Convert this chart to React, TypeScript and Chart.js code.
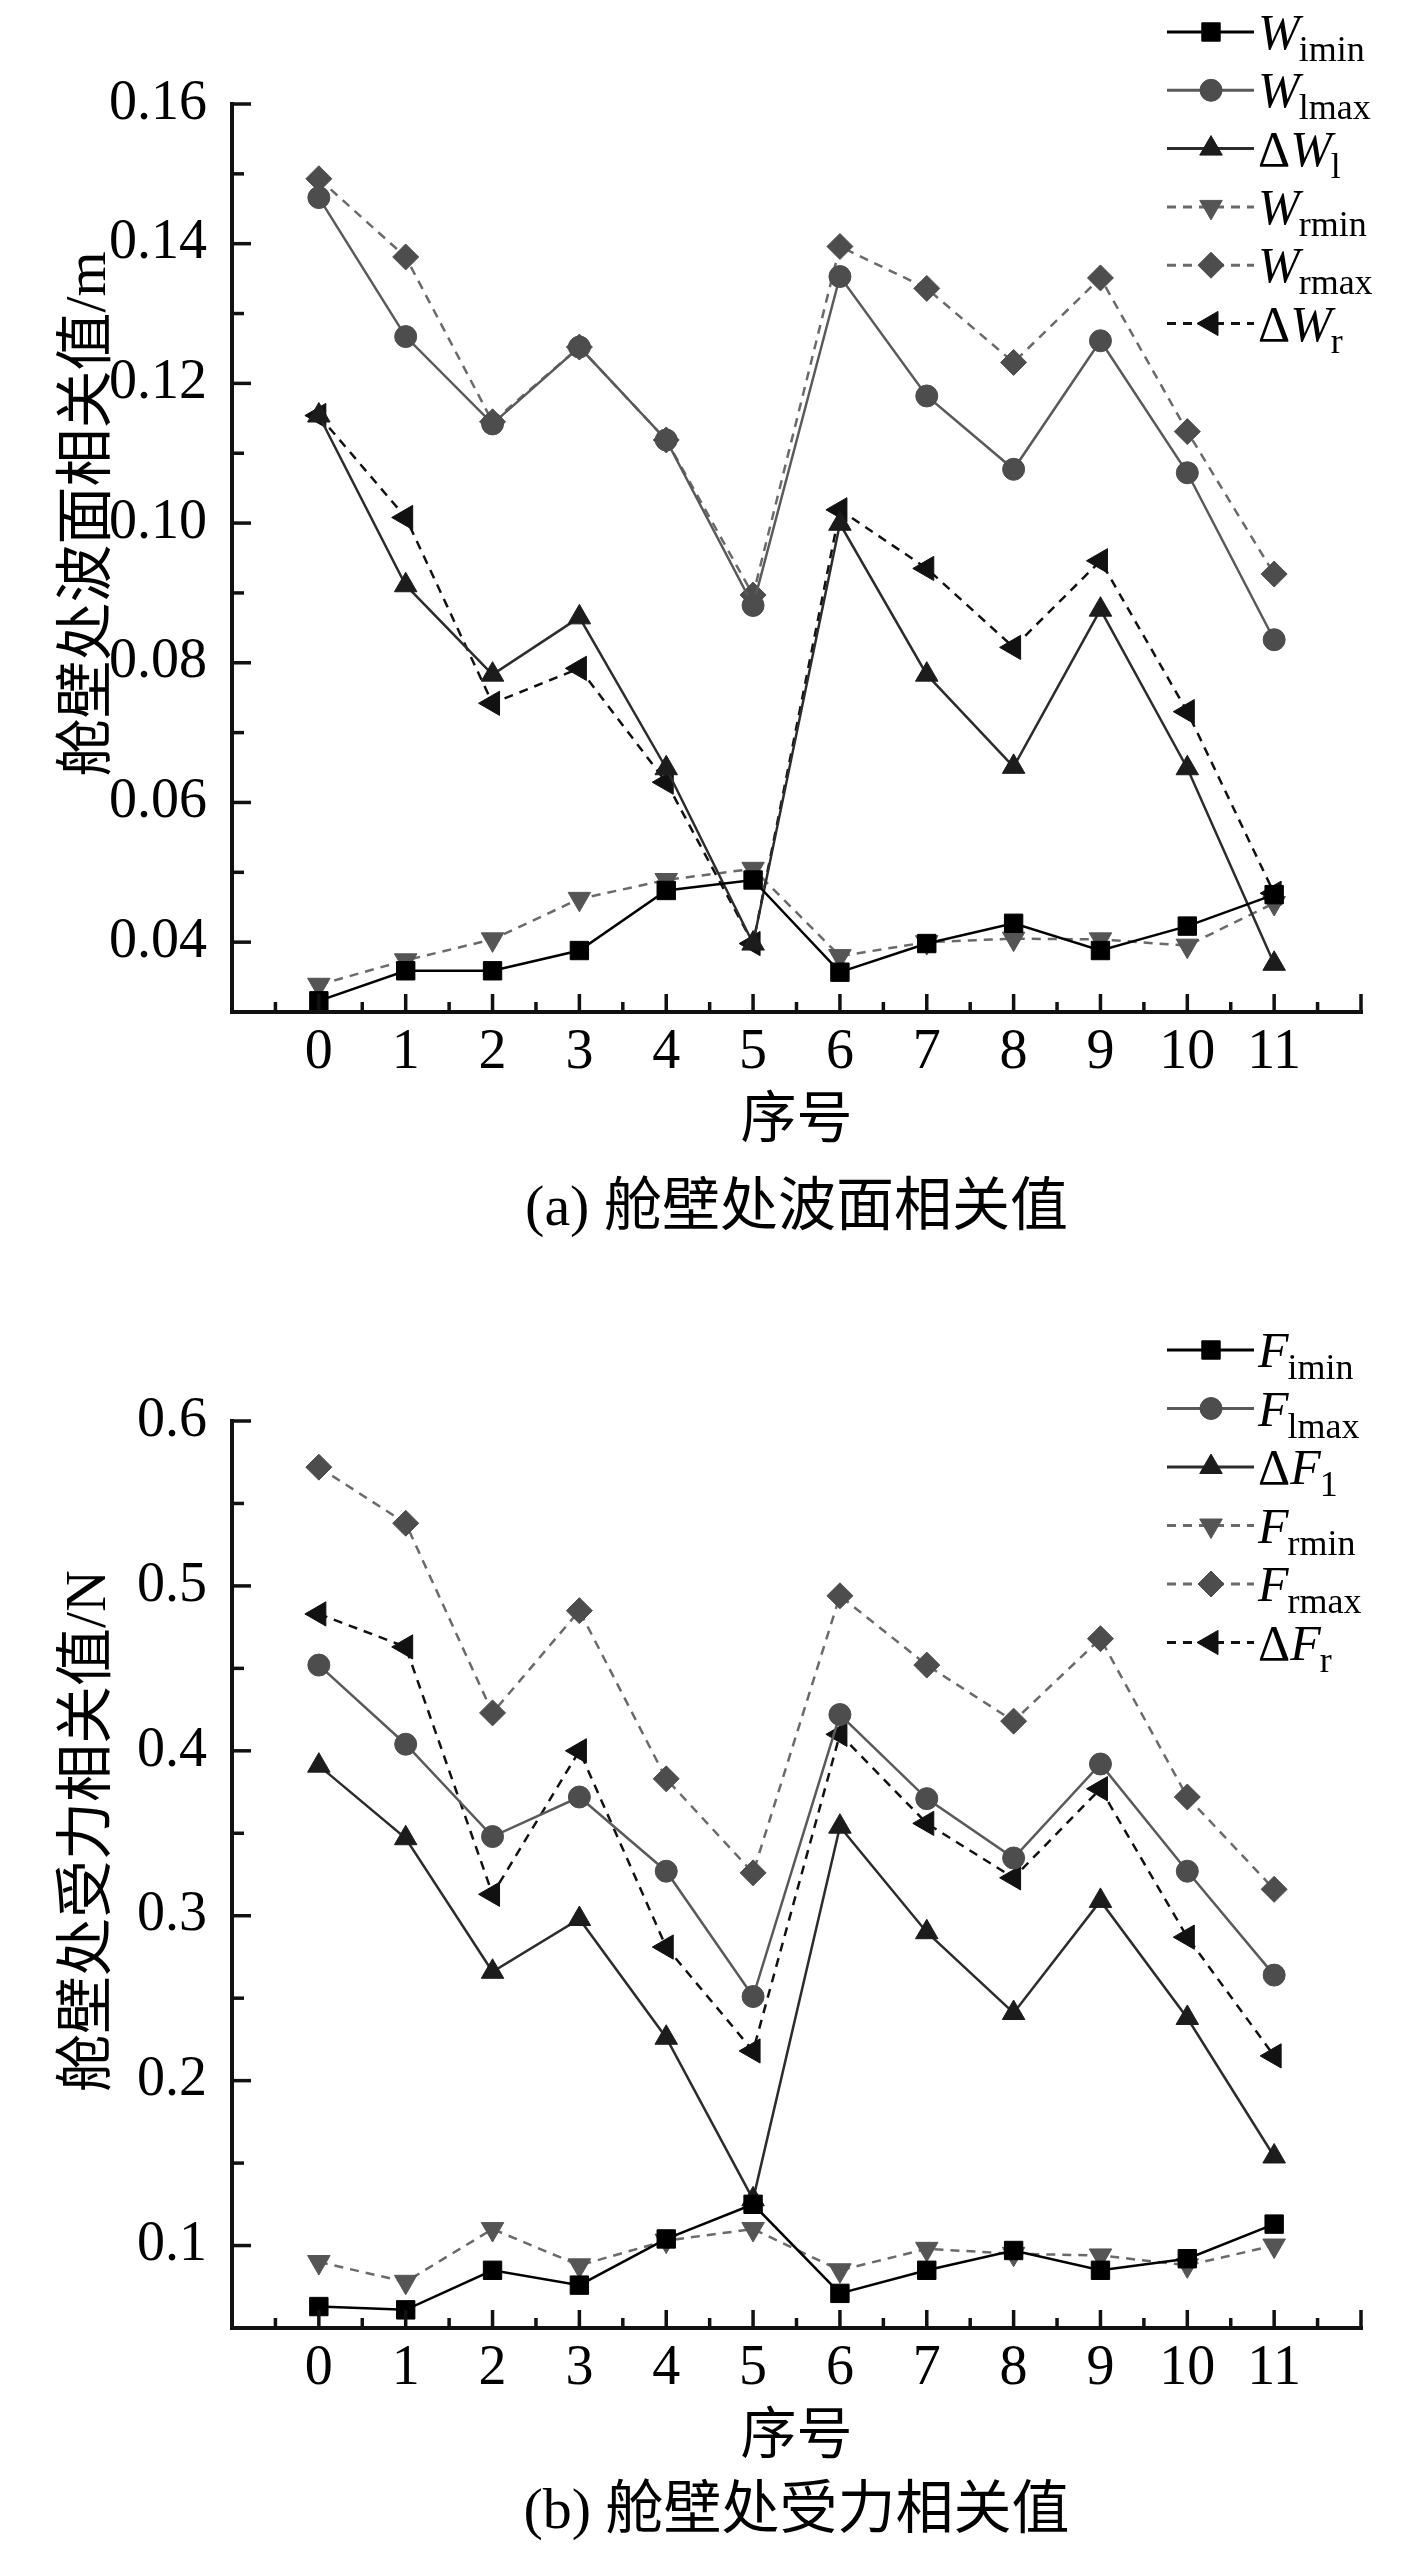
import React, { useEffect, useRef } from 'react';
import { Chart, registerables } from 'chart.js';
import { drawPoint } from 'chart.js/helpers';

Chart.register(...registerables);

// ---------- data ----------
const seq = [0, 1, 2, 3, 4, 5, 6, 7, 8, 9, 10, 11];

const wImin = [0.0316, 0.0359, 0.0359, 0.0388, 0.0474, 0.0489, 0.0357, 0.0398, 0.0427, 0.0388, 0.0423, 0.0468];
const wLmax = [0.1466, 0.1267, 0.1142, 0.1252, 0.1119, 0.0882, 0.1353, 0.1182, 0.1077, 0.1261, 0.1072, 0.0833];
const dWl = [0.1154, 0.0911, 0.0783, 0.0865, 0.0649, 0.0398, 0.0999, 0.0783, 0.0651, 0.0876, 0.0649, 0.0369];
const wRmin = [0.0339, 0.0374, 0.0404, 0.0462, 0.0489, 0.0505, 0.038, 0.04, 0.0405, 0.0404, 0.0395, 0.0456];
const wRmax = [0.1493, 0.1381, 0.1145, 0.1252, 0.1119, 0.0897, 0.1396, 0.1336, 0.123, 0.1351, 0.1131, 0.0927];
const dWr = [0.1154, 0.1008, 0.0742, 0.0792, 0.0629, 0.0398, 0.1019, 0.0935, 0.0822, 0.0946, 0.073, 0.047];

const fImin = [0.063, 0.061, 0.085, 0.076, 0.104, 0.125, 0.071, 0.085, 0.097, 0.085, 0.092, 0.113];
const fLmax = [0.452, 0.404, 0.348, 0.372, 0.327, 0.251, 0.422, 0.371, 0.335, 0.392, 0.327, 0.264];
const dFl = [0.391, 0.347, 0.266, 0.298, 0.226, 0.128, 0.354, 0.29, 0.241, 0.309, 0.238, 0.154];
const fRmin = [0.09, 0.078, 0.11, 0.088, 0.103, 0.11, 0.085, 0.098, 0.095, 0.094, 0.088, 0.1];
const fRmax = [0.572, 0.538, 0.423, 0.485, 0.383, 0.326, 0.494, 0.452, 0.418, 0.468, 0.372, 0.316];
const dFr = [0.483, 0.463, 0.313, 0.4, 0.281, 0.218, 0.41, 0.356, 0.323, 0.377, 0.287, 0.215];

// tick values / labels
const xTickValues = seq;
const xMajorMarks = [0, 1, 2, 3, 4, 5, 6, 7, 8, 9, 10, 11, 12];
const xMinorMarks = [-0.5, 0.5, 1.5, 2.5, 3.5, 4.5, 5.5, 6.5, 7.5, 8.5, 9.5, 10.5, 11.5];
const yTicksA = [0.04, 0.06, 0.08, 0.1, 0.12, 0.14, 0.16];
const yMinorA = [0.05, 0.07, 0.09, 0.11, 0.13, 0.15];
const yTicksB = [0.1, 0.2, 0.3, 0.4, 0.5, 0.6];
const yMinorB = [0.15, 0.25, 0.35, 0.45, 0.55];

const legendA = [
  { pre: '', main: 'W', sub: 'imin' },
  { pre: '', main: 'W', sub: 'lmax' },
  { pre: 'Δ', main: 'W', sub: 'l' },
  { pre: '', main: 'W', sub: 'rmin' },
  { pre: '', main: 'W', sub: 'rmax' },
  { pre: 'Δ', main: 'W', sub: 'r' },
];
const legendB = [
  { pre: '', main: 'F', sub: 'imin' },
  { pre: '', main: 'F', sub: 'lmax' },
  { pre: 'Δ', main: 'F', sub: '1' },
  { pre: '', main: 'F', sub: 'rmin' },
  { pre: '', main: 'F', sub: 'rmax' },
  { pre: 'Δ', main: 'F', sub: 'r' },
];

// ---------- styles ----------
const SERIF = "'Liberation Serif', 'Noto Sans CJK SC', serif";
const DASH = [9, 7];
const STYLES = [
  { pointStyle: 'rect', radius: 13, rotation: 0, color: '#000000', line: '#000000', dash: [] as number[] },
  { pointStyle: 'circle', radius: 11, rotation: 0, color: '#4d4d4d', line: '#5a5a5a', dash: [] as number[] },
  { pointStyle: 'triangle', radius: 13, rotation: 0, color: '#1c1c1c', line: '#2c2c2c', dash: [] as number[] },
  { pointStyle: 'triangle', radius: 13, rotation: 180, color: '#555555', line: '#6a6a6a', dash: DASH },
  { pointStyle: 'rectRot', radius: 13, rotation: 0, color: '#4d4d4d', line: '#6a6a6a', dash: DASH },
  { pointStyle: 'triangle', radius: 14, rotation: 270, color: '#111111', line: '#111111', dash: DASH },
];

type PanelCfg = {
  top: number;
  height: number;
  plotTop: number;
  plotBottom: number;
  yMin: number;
  yMax: number;
  yTicks: number[];
  yMinor: number[];
  decimals: number;
  series: number[][];
  legend: { pre: string; main: string; sub: string }[];
  legendTop: number;
  legendStep: number;
  yTitle: string;
  caption: string;
  captionOffset: number;
};

const PLOT_LEFT = 232;
const PLOT_RIGHT = 1361;
const W = 1417;

function makeDecor(cfg: PanelCfg) {
  return {
    id: 'decor',
    afterDatasetsDraw(chart: any) {
      const ctx: CanvasRenderingContext2D = chart.ctx;
      const { left, right, top, bottom } = chart.chartArea;
      const xs = chart.scales.x;
      const ys = chart.scales.y;
      ctx.save();
      ctx.setLineDash([]);
      ctx.strokeStyle = '#111';
      ctx.lineCap = 'butt';
      ctx.lineWidth = 3.5;
      const seg = (x1: number, y1: number, x2: number, y2: number) => {
        ctx.beginPath();
        ctx.moveTo(x1, y1);
        ctx.lineTo(x2, y2);
        ctx.stroke();
      };
      xMajorMarks.forEach((v) => {
        const px = xs.getPixelForValue(v);
        seg(px, bottom, px, bottom - 18);
      });
      xMinorMarks.forEach((v) => {
        const px = xs.getPixelForValue(v);
        seg(px, bottom, px, bottom - 10);
      });
      cfg.yTicks.forEach((v) => {
        const py = ys.getPixelForValue(v);
        seg(left, py, left + 19, py);
      });
      cfg.yMinor.forEach((v) => {
        const py = ys.getPixelForValue(v);
        seg(left, py, left + 12, py);
      });
      ctx.lineWidth = 4;
      ctx.lineCap = 'square';
      seg(left, top, left, bottom);
      seg(left, bottom, right, bottom);
      ctx.restore();
    },
    afterDraw(chart: any) {
      const ctx: CanvasRenderingContext2D = chart.ctx;
      const { top, bottom } = chart.chartArea;
      const xs = chart.scales.x;
      ctx.save();
      ctx.fillStyle = '#000';
      // x title
      ctx.textAlign = 'center';
      ctx.textBaseline = 'middle';
      ctx.font = `56px ${SERIF}`;
      const cx = xs.getPixelForValue(5.5);
      ctx.fillText('序号', cx, bottom + 110);
      // caption
      ctx.font = `58px ${SERIF}`;
      ctx.fillText(cfg.caption, cx, bottom + cfg.captionOffset);
      // y title
      ctx.save();
      ctx.translate(90, top + 410);
      ctx.rotate(-Math.PI / 2);
      ctx.font = `58px ${SERIF}`;
      ctx.fillText(cfg.yTitle, 0, 0);
      ctx.restore();
      // legend
      cfg.legend.forEach((item, i) => {
        const st = STYLES[i];
        const y = cfg.legendTop + i * cfg.legendStep;
        ctx.save();
        ctx.strokeStyle = st.line;
        ctx.lineWidth = 3;
        ctx.setLineDash(st.dash);
        ctx.beginPath();
        ctx.moveTo(1167, y);
        ctx.lineTo(1254, y);
        ctx.stroke();
        ctx.setLineDash([]);
        ctx.fillStyle = st.color;
        ctx.strokeStyle = st.color;
        ctx.lineWidth = 1;
        drawPoint(ctx, { pointStyle: st.pointStyle as any, radius: st.radius, rotation: st.rotation, borderWidth: 1 }, 1211, y);
        ctx.restore();
        ctx.textAlign = 'left';
        ctx.textBaseline = 'alphabetic';
        let x = 1258;
        if (item.pre) {
          ctx.font = `50px ${SERIF}`;
          ctx.fillText(item.pre, x, y + 17);
          x += ctx.measureText(item.pre).width;
        }
        ctx.font = `italic 50px ${SERIF}`;
        ctx.fillText(item.main, x, y + 17);
        x += ctx.measureText(item.main).width - 1;
        ctx.font = `36px ${SERIF}`;
        ctx.fillText(item.sub, x, y + 29);
      });
      ctx.restore();
    },
  };
}

function Panel({ cfg }: { cfg: PanelCfg }) {
  const ref = useRef<HTMLCanvasElement>(null);
  useEffect(() => {
    const canvas = ref.current!;
    const xHeight = 100;
    const chart = new Chart(canvas, {
      type: 'line',
      data: {
        datasets: cfg.series.map((vals, i) => {
          const st = STYLES[i];
          return {
            label: cfg.legend[i].main + cfg.legend[i].sub,
            data: seq.map((x, j) => ({ x, y: vals[j] })),
            borderColor: st.line,
            borderWidth: 2.5,
            borderDash: st.dash,
            backgroundColor: st.color,
            pointStyle: st.pointStyle as any,
            pointRadius: st.radius,
            pointRotation: st.rotation,
            pointBackgroundColor: st.color,
            pointBorderColor: st.color,
            pointBorderWidth: 1,
            tension: 0,
            fill: false,
            clip: false as any,
          };
        }),
      },
      options: {
        animation: false,
        responsive: false,
        devicePixelRatio: 1,
        layout: {
          padding: {
            left: 0,
            top: cfg.plotTop,
            right: W - PLOT_RIGHT,
            bottom: cfg.height - cfg.plotBottom - xHeight,
          },
        },
        plugins: { legend: { display: false }, tooltip: { enabled: false } },
        scales: {
          x: {
            type: 'linear',
            min: -1,
            max: 12,
            grid: { display: false, drawTicks: false },
            border: { display: false },
            ticks: {
              autoSkip: false,
              maxRotation: 0,
              padding: 13,
              color: '#000',
              font: { family: SERIF, size: 56, lineHeight: 1 },
              callback: (v: any) => String(v),
            },
            afterBuildTicks: (scale: any) => {
              scale.ticks = xTickValues.map((v) => ({ value: v }));
            },
            afterFit: (scale: any) => {
              scale.height = xHeight;
            },
          },
          y: {
            type: 'linear',
            min: cfg.yMin,
            max: cfg.yMax,
            grid: { display: false, drawTicks: false },
            border: { display: false },
            ticks: {
              padding: 25,
              color: '#000',
              font: { family: SERIF, size: 56, lineHeight: 1 },
              callback: (v: any) => Number(v).toFixed(cfg.decimals),
            },
            afterBuildTicks: (scale: any) => {
              scale.ticks = cfg.yTicks.map((v) => ({ value: v }));
            },
            afterFit: (scale: any) => {
              scale.width = PLOT_LEFT;
            },
          },
        },
      },
      plugins: [makeDecor(cfg)],
    } as any);
    return () => chart.destroy();
  }, [cfg]);
  return (
    <canvas
      ref={ref}
      width={W}
      height={cfg.height}
      style={{ position: 'absolute', left: 0, top: cfg.top, width: W, height: cfg.height, display: 'block' }}
    />
  );
}

const cfgA: PanelCfg = {
  top: 0,
  height: 1275,
  plotTop: 104,
  plotBottom: 1012,
  yMin: 0.03,
  yMax: 0.16,
  yTicks: yTicksA,
  yMinor: yMinorA,
  decimals: 2,
  series: [wImin, wLmax, dWl, wRmin, wRmax, dWr],
  legend: legendA,
  legendTop: 32,
  legendStep: 58.3,
  yTitle: '舱壁处波面相关值/m',
  caption: '(a) 舱壁处波面相关值',
  captionOffset: 198,
};

const cfgB: PanelCfg = {
  top: 1275,
  height: 1276,
  plotTop: 146,
  plotBottom: 1053,
  yMin: 0.05,
  yMax: 0.6,
  yTicks: yTicksB,
  yMinor: yMinorB,
  decimals: 1,
  series: [fImin, fLmax, dFl, fRmin, fRmax, dFr],
  legend: legendB,
  legendTop: 75,
  legendStep: 58.5,
  yTitle: '舱壁处受力相关值/N',
  caption: '(b) 舱壁处受力相关值',
  captionOffset: 185,
};

export default function App() {
  return (
    <div style={{ position: 'absolute', left: 0, top: 0, width: W, height: 2551, background: '#fff', overflow: 'hidden' }}>
      <Panel cfg={cfgA} />
      <Panel cfg={cfgB} />
    </div>
  );
}
